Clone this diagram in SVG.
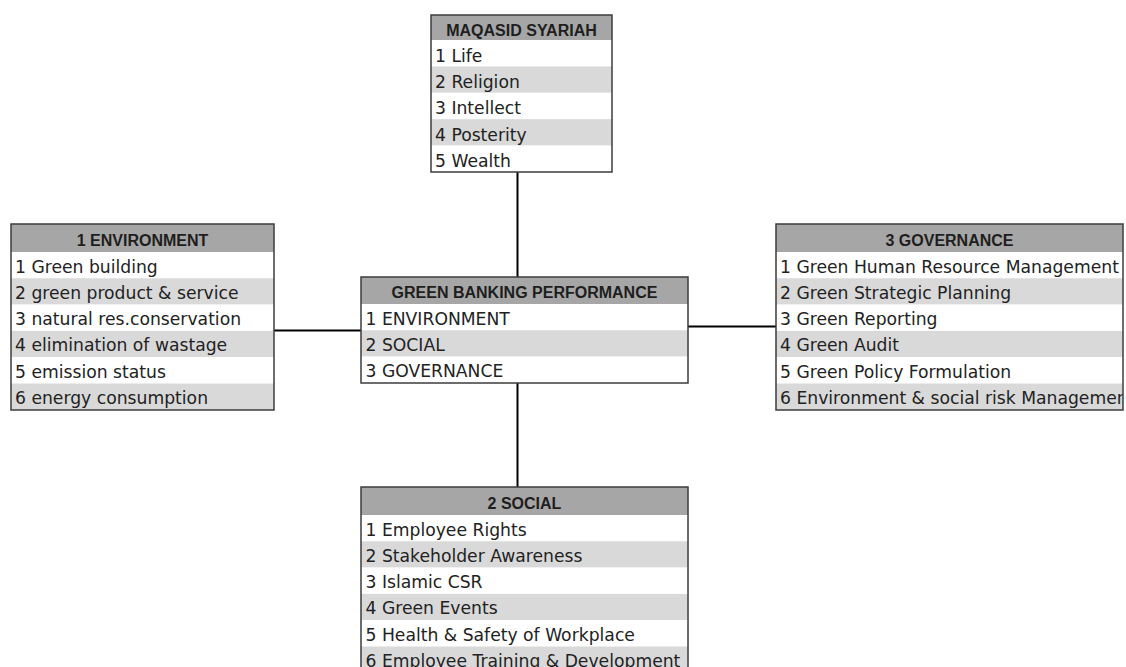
<svg xmlns="http://www.w3.org/2000/svg" width="1126" height="667" viewBox="0 0 1126 667">
<style>
.bg{fill:#ffffff}
.hdr{fill:#a6a6a6}
.alt{fill:#d9d9d9}
.wht{fill:#ffffff}
.frame{fill:none;stroke:#3c3c3c;stroke-width:1.5}
.t{font-family:"DejaVu Sans",sans-serif;font-size:17.2px;fill:#222222}
.h{font-family:"Liberation Sans",Arial,sans-serif;font-size:16px;font-weight:bold;fill:#1e1e1e;text-anchor:middle}
.conn{stroke:#000000;stroke-width:2;fill:none}
</style>
<defs>
<clipPath id="cMaq"><rect x="431" y="15" width="181" height="157"/></clipPath>
<clipPath id="cEnv"><rect x="11" y="224" width="263" height="186"/></clipPath>
<clipPath id="cGbp"><rect x="361" y="277" width="327" height="106"/></clipPath>
<clipPath id="cGov"><rect x="776" y="224" width="347" height="186"/></clipPath>
<clipPath id="cSoc"><rect x="361" y="487" width="327" height="186"/></clipPath>
</defs>
<rect class="bg" x="0" y="0" width="1126" height="667"/>

<g id="connectors">
<line class="conn" x1="517.5" y1="172" x2="517.5" y2="277"/>
<line class="conn" x1="517.5" y1="383" x2="517.5" y2="487"/>
<line class="conn" x1="272" y1="330.5" x2="361" y2="330.5"/>
<line class="conn" x1="683" y1="326.5" x2="776" y2="326.5"/>
</g>

<g id="maqasid">
<rect class="hdr" x="431" y="15" width="181" height="25"/>
<rect class="wht" x="431" y="40" width="181" height="26.4"/>
<rect class="alt" x="431" y="66.4" width="181" height="26.4"/>
<rect class="wht" x="431" y="92.8" width="181" height="26.4"/>
<rect class="alt" x="431" y="119.2" width="181" height="26.4"/>
<rect class="wht" x="431" y="145.6" width="181" height="26.4"/>
<g clip-path="url(#cMaq)">
<text class="h" x="521.5" y="36">MAQASID SYARIAH</text>
<text class="t" x="435" y="61.5">1 Life</text>
<text class="t" x="435" y="87.9">2 Religion</text>
<text class="t" x="435" y="114.3">3 Intellect</text>
<text class="t" x="435" y="140.7">4 Posterity</text>
<text class="t" x="435" y="167.1">5 Wealth</text>
</g>
<rect class="frame" x="431" y="15" width="181" height="157"/>
</g>

<g id="environment">
<rect class="hdr" x="11" y="224" width="263" height="28"/>
<rect class="wht" x="11" y="252" width="263" height="26.3"/>
<rect class="alt" x="11" y="278.3" width="263" height="26.3"/>
<rect class="wht" x="11" y="304.6" width="263" height="26.3"/>
<rect class="alt" x="11" y="330.9" width="263" height="26.3"/>
<rect class="wht" x="11" y="357.2" width="263" height="26.3"/>
<rect class="alt" x="11" y="383.5" width="263" height="26.5"/>
<g clip-path="url(#cEnv)">
<text class="h" x="142.5" y="246">1 ENVIRONMENT</text>
<text class="t" x="15" y="272.5">1 Green building</text>
<text class="t" x="15" y="298.8">2 green product &amp; service</text>
<text class="t" x="15" y="325.1">3 natural res.conservation</text>
<text class="t" x="15" y="351.4">4 elimination of wastage</text>
<text class="t" x="15" y="377.7">5 emission status</text>
<text class="t" x="15" y="404">6 energy consumption</text>
</g>
<rect class="frame" x="11" y="224" width="263" height="186"/>
</g>

<g id="green-banking-performance">
<rect class="hdr" x="361" y="277" width="327" height="27"/>
<rect class="wht" x="361" y="304" width="327" height="26.3"/>
<rect class="alt" x="361" y="330.3" width="327" height="26.3"/>
<rect class="wht" x="361" y="356.6" width="327" height="26.4"/>
<g clip-path="url(#cGbp)">
<text class="h" x="524.5" y="298">GREEN BANKING PERFORMANCE</text>
<text class="t" x="365.5" y="324.5">1 ENVIRONMENT</text>
<text class="t" x="365.5" y="350.8">2 SOCIAL</text>
<text class="t" x="365.5" y="377.1">3 GOVERNANCE</text>
</g>
<rect class="frame" x="361" y="277" width="327" height="106"/>
</g>

<g id="governance">
<rect class="hdr" x="776" y="224" width="347" height="28"/>
<rect class="wht" x="776" y="252" width="347" height="26.3"/>
<rect class="alt" x="776" y="278.3" width="347" height="26.3"/>
<rect class="wht" x="776" y="304.6" width="347" height="26.3"/>
<rect class="alt" x="776" y="330.9" width="347" height="26.3"/>
<rect class="wht" x="776" y="357.2" width="347" height="26.3"/>
<rect class="alt" x="776" y="383.5" width="347" height="26.5"/>
<g clip-path="url(#cGov)">
<text class="h" x="949.5" y="246">3 GOVERNANCE</text>
<text class="t" x="780" y="272.5">1 Green Human Resource Management</text>
<text class="t" x="780" y="298.8">2 Green Strategic Planning</text>
<text class="t" x="780" y="325.1">3 Green Reporting</text>
<text class="t" x="780" y="351.4">4 Green Audit</text>
<text class="t" x="780" y="377.7">5 Green Policy Formulation</text>
<text class="t" x="780" y="404">6 Environment &amp; social risk Management</text>
</g>
<rect class="frame" x="776" y="224" width="347" height="186"/>
</g>

<g id="social">
<rect class="hdr" x="361" y="487" width="327" height="28"/>
<rect class="wht" x="361" y="515" width="327" height="26.3"/>
<rect class="alt" x="361" y="541.3" width="327" height="26.3"/>
<rect class="wht" x="361" y="567.6" width="327" height="26.3"/>
<rect class="alt" x="361" y="593.9" width="327" height="26.3"/>
<rect class="wht" x="361" y="620.2" width="327" height="26.3"/>
<rect class="alt" x="361" y="646.5" width="327" height="26.5"/>
<g clip-path="url(#cSoc)">
<text class="h" x="524.5" y="509">2 SOCIAL</text>
<text class="t" x="365.5" y="535.5">1 Employee Rights</text>
<text class="t" x="365.5" y="561.8">2 Stakeholder Awareness</text>
<text class="t" x="365.5" y="588.1">3 Islamic CSR</text>
<text class="t" x="365.5" y="614.4">4 Green Events</text>
<text class="t" x="365.5" y="640.7">5 Health &amp; Safety of Workplace</text>
<text class="t" x="365.5" y="667">6 Employee Training &amp; Development</text>
</g>
<rect class="frame" x="361" y="487" width="327" height="186"/>
</g>
</svg>
